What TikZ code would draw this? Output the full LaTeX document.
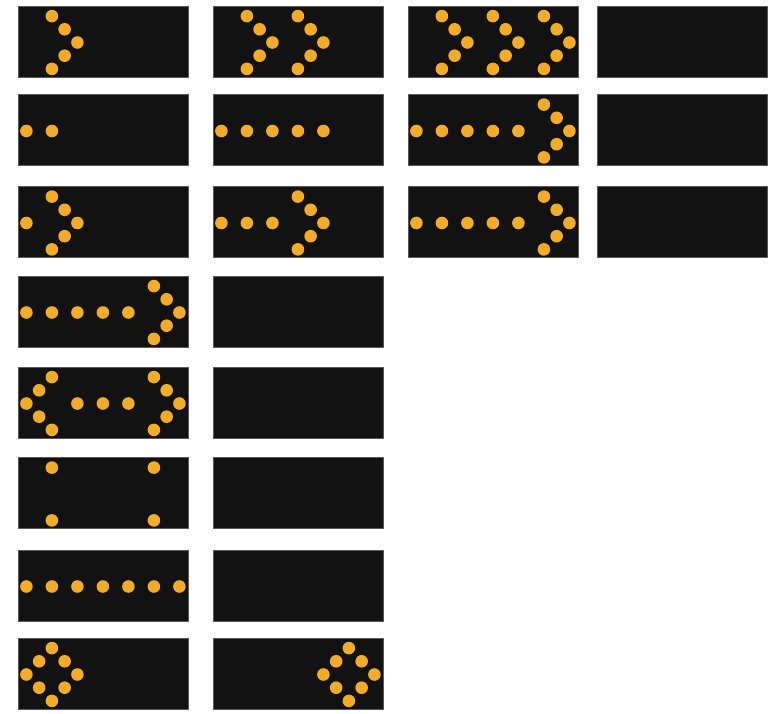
\documentclass[tikz,border=0pt]{standalone}
\usepackage{tikz}

% one sign board with its lit lamps (name, centre x, centre y, lamp list)
\newcommand{\signpanel}[4]{%
  \node[panel] (#1) at (#2,#3) {};
  \foreach \i/\j in {#4}
    \fill[lamp] ([shift={(8.5+25.5*\i,13.2*\j+1)}]#1.west) circle (6.3);
}

\begin{document}
\begin{tikzpicture}[x=1pt, y=-1pt,
    panel/.style={
        rectangle,
        draw=black!65,
        fill=black!93,
        line width=0.8pt,
        minimum width=170pt,
        minimum height=71pt,
        inner sep=0pt
    },
    lamp/.style={fill={rgb,255:red,242;green,172;blue,42}}]

    \useasboundingbox (0,0) rectangle (781,714);

    % first row: chevrons only
    \signpanel{p11}{103.3}{41.5}{1/-2,1.5/-1,2/0,1.5/1,1/2}
    \signpanel{p12}{298.3}{41.5}{1/-2,1.5/-1,2/0,1.5/1,1/2,
        3/-2,3.5/-1,4/0,3.5/1,3/2}
    \signpanel{p13}{493.3}{41.5}{1/-2,1.5/-1,2/0,1.5/1,1/2,
        3/-2,3.5/-1,4/0,3.5/1,3/2,5/-2,5.5/-1,6/0,5.5/1,5/2}
    \node[panel] (p14) at (682.3,41.5) {};

    % second row: growing line
    \signpanel{p21}{103.3}{130}{0/0,1/0}
    \signpanel{p22}{298.3}{130}{0/0,1/0,2/0,3/0,4/0}
    \signpanel{p23}{493.3}{130}{0/0,1/0,2/0,3/0,4/0,
        5/-2,5.5/-1,6/0,5.5/1,5/2}
    \node[panel] (p24) at (682.3,130) {};

    % third row: growing arrow
    \signpanel{p31}{103.3}{222}{0/0,1/-2,1.5/-1,2/0,1.5/1,1/2}
    \signpanel{p32}{298.3}{222}{0/0,1/0,2/0,3/-2,3.5/-1,4/0,3.5/1,3/2}
    \signpanel{p33}{493.3}{222}{0/0,1/0,2/0,3/0,4/0,
        5/-2,5.5/-1,6/0,5.5/1,5/2}
    \node[panel] (p34) at (682.3,222) {};

    % flashing arrow
    \signpanel{p41}{103.3}{311.5}{0/0,1/0,2/0,3/0,4/0,
        5/-2,5.5/-1,6/0,5.5/1,5/2}
    \node[panel] (p42) at (298.3,311.5) {};

    % double arrow
    \signpanel{p51}{103.3}{402.5}{1/-2,0.5/-1,0/0,0.5/1,1/2,2/0,3/0,4/0,
        5/-2,5.5/-1,6/0,5.5/1,5/2}
    \node[panel] (p52) at (298.3,402.5) {};

    % caution corners
    \signpanel{p61}{103.3}{493}{1/-2,1/2,5/-2,5/2}
    \node[panel] (p62) at (298.3,493) {};

    % caution bar
    \signpanel{p71}{103.3}{585.5}{0/0,1/0,2/0,3/0,4/0,5/0,6/0}
    \node[panel] (p72) at (298.3,585.5) {};

    % alternating diamonds
    \signpanel{p81}{103.3}{673.5}{1/-2,0.5/-1,1.5/-1,0/0,2/0,0.5/1,1.5/1,1/2}
    \signpanel{p82}{298.3}{673.5}{5/-2,4.5/-1,5.5/-1,4/0,6/0,4.5/1,5.5/1,5/2}
\end{tikzpicture}
\end{document}
